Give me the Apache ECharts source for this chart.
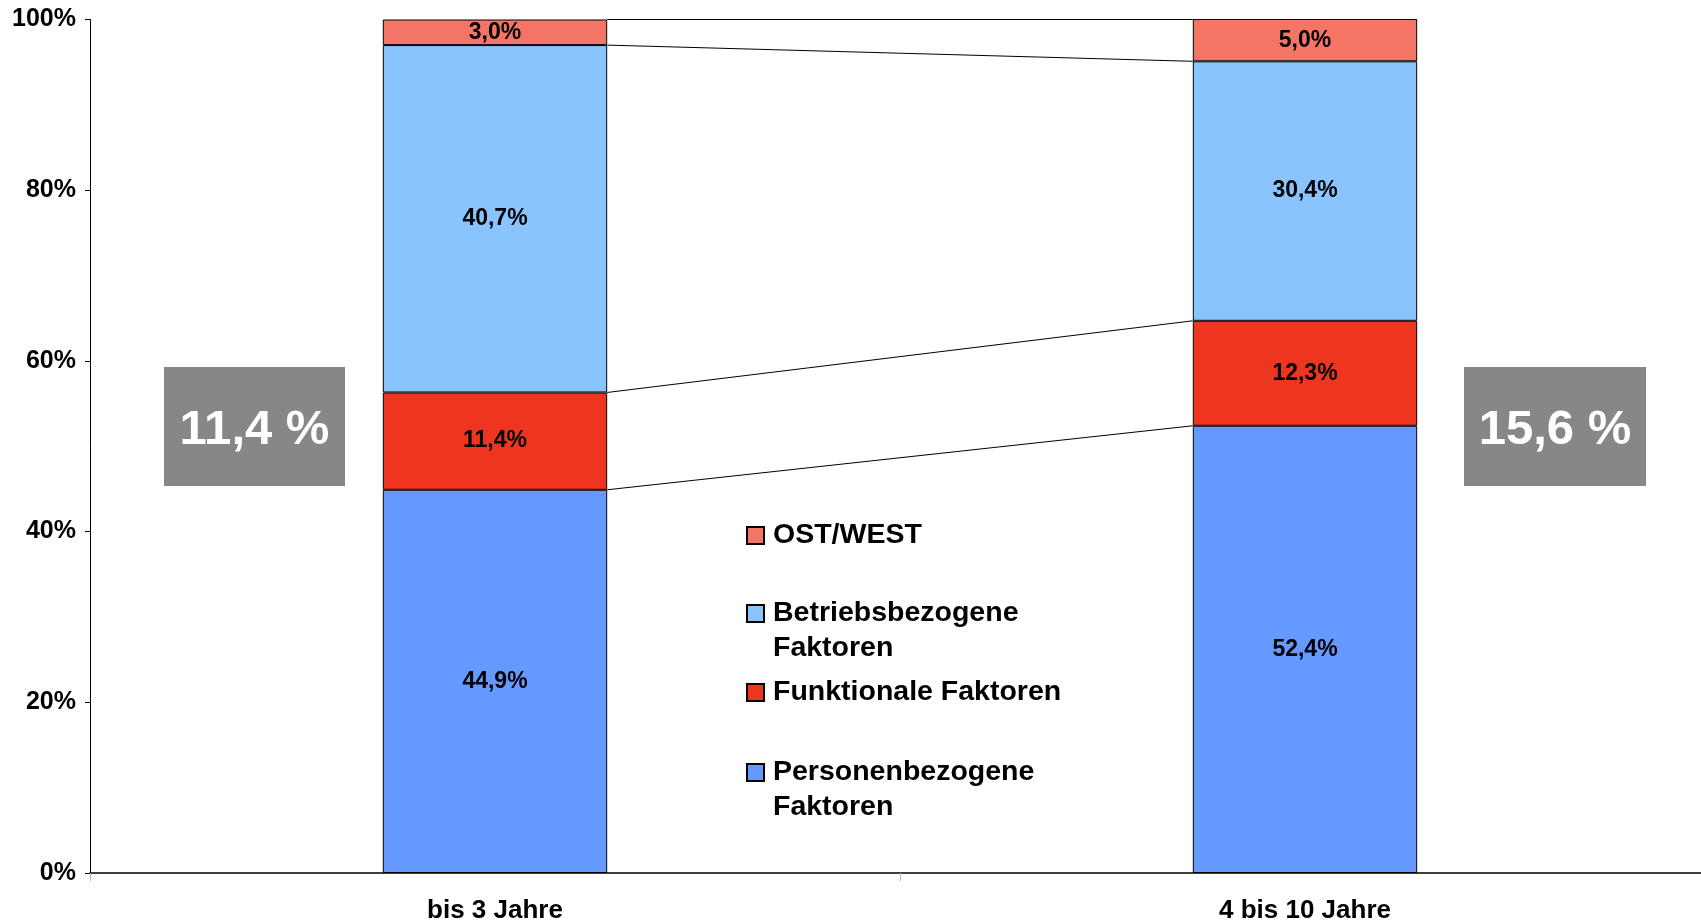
<!DOCTYPE html>
<html>
<head>
<meta charset="utf-8">
<script src="https://cdn.jsdelivr.net/npm/echarts@6/dist/echarts.min.js"></script>
<style>
  html, body { margin: 0; padding: 0; background: #fff; }
  #chart { width: 1701px; height: 924px; }
</style>
</head>
<body>
<div id="chart"></div>
<script>
const categories = ['bis 3 Jahre', '4 bis 10 Jahre'];
const personen = [44.9, 52.4];
const funktional = [11.4, 12.3];
const betrieb = [40.7, 30.4];
const ostWest = [3.0, 5.0];
const boxLabels = ['11,4 %', '15,6 %'];

const FONT = 'Liberation Sans, Arial, sans-serif';
const BAR_RATIO = 0.277;

// series lines between the two columns (cumulative boundaries)
let stacks = [personen, funktional, betrieb, ostWest];
let joinLines = [];
let c0 = 0, c1 = 0;
for (let i = 0; i < stacks.length; i++) {
  c0 += stacks[i][0];
  c1 += stacks[i][1];
  joinLines.push([0, Math.min(c0, 100), 1, Math.min(c1, 100)]);
}

function pct(v) {
  return v.toFixed(1).replace('.', ',') + '%';
}

function barSeries(name, data, color) {
  return {
    name: name,
    type: 'bar',
    stack: 'all',
    barWidth: (BAR_RATIO * 100) + '%',
    data: data,
    itemStyle: { color: color, borderColor: '#000', borderWidth: 1 },
    label: {
      show: true,
      position: 'inside',
      color: '#000',
      fontFamily: FONT,
      fontWeight: 'bold',
      fontSize: 23,
      formatter: p => pct(p.value)
    },
    emphasis: { disabled: true }
  };
}

const twoLineIcon = 'path://M0,0h17v17h-17z M0,52';

function legendFor(name, top, wrap) {
  return {
    data: [name],
    orient: 'vertical',
    left: 746,
    top: top,
    padding: 0,
    itemWidth: 17,
    itemHeight: wrap ? 52 : 17,
    icon: wrap ? twoLineIcon : 'rect',
    formatter: n => wrap ? n.replace(' ', '\n') : n,
    textStyle: {
      fontFamily: FONT,
      fontWeight: 'bold',
      fontSize: 28.5,
      lineHeight: 35,
      padding: [0, 0, 0, 4],
      color: '#000'
    }
  };
}

let myChart = echarts.init(document.getElementById('chart'));
myChart.setOption({
  animation: false,
  grid: {
    left: 90, width: 1620, top: 19.5, bottom: 51,
    containLabel: false,
    outerBoundsMode: 'none'
  },
  legend: [
    legendFor('OST/WEST', 518, false),
    legendFor('Betriebsbezogene Faktoren', 596, true),
    legendFor('Funktionale Faktoren', 675, false),
    legendFor('Personenbezogene Faktoren', 755, true)
  ],
  xAxis: {
    type: 'category',
    data: categories,
    axisLine: { lineStyle: { color: '#000', width: 1.5 } },
    axisTick: { show: true, length: 8, lineStyle: { color: '#bbb' } },
    axisLabel: {
      color: '#000',
      fontFamily: FONT,
      fontWeight: 'bold',
      fontSize: 26,
      margin: 25
    }
  },
  yAxis: {
    type: 'value',
    min: 0,
    max: 100,
    interval: 20,
    splitLine: { show: false },
    axisLine: { show: true, lineStyle: { color: '#000', width: 1 } },
    axisTick: { show: true, length: 5, lineStyle: { color: '#000' } },
    axisLabel: {
      color: '#000',
      fontFamily: FONT,
      fontWeight: 'bold',
      fontSize: 25,
      margin: 14,
      formatter: '{value}%'
    }
  },
  series: [
    barSeries('Personenbezogene Faktoren', personen, '#6699FF'),
    barSeries('Funktionale Faktoren', funktional, '#EE3520'),
    barSeries('Betriebsbezogene Faktoren', betrieb, '#8AC4FF'),
    barSeries('OST/WEST', ostWest, '#F47565'),
    {
      name: 'join',
      type: 'custom',
      data: joinLines,
      encode: { x: [0, 2], y: [1, 3] },
      silent: true,
      z: 1,
      renderItem: function (params, api) {
        let w = api.size([1, 0])[0] * BAR_RATIO;
        let p1 = api.coord([api.value(0), api.value(1)]);
        let p2 = api.coord([api.value(2), api.value(3)]);
        return {
          type: 'line',
          shape: { x1: p1[0] + w / 2, y1: p1[1], x2: p2[0] - w / 2, y2: p2[1] },
          style: { stroke: '#000', lineWidth: 1 }
        };
      }
    }
  ],
  graphic: [
    {
      type: 'group', left: 164, top: 367,
      children: [
        { type: 'rect', shape: { x: 0, y: 0, width: 181, height: 119 }, style: { fill: '#878787' } },
        { type: 'text', x: 90.5, y: 63, style: { text: boxLabels[0], fill: '#fff', font: 'bold 49px ' + FONT, align: 'center', verticalAlign: 'middle' } }
      ]
    },
    {
      type: 'group', left: 1464, top: 367,
      children: [
        { type: 'rect', shape: { x: 0, y: 0, width: 182, height: 119 }, style: { fill: '#878787' } },
        { type: 'text', x: 91, y: 63, style: { text: boxLabels[1], fill: '#fff', font: 'bold 49px ' + FONT, align: 'center', verticalAlign: 'middle' } }
      ]
    }
  ]
});
</script>
</body>
</html>
